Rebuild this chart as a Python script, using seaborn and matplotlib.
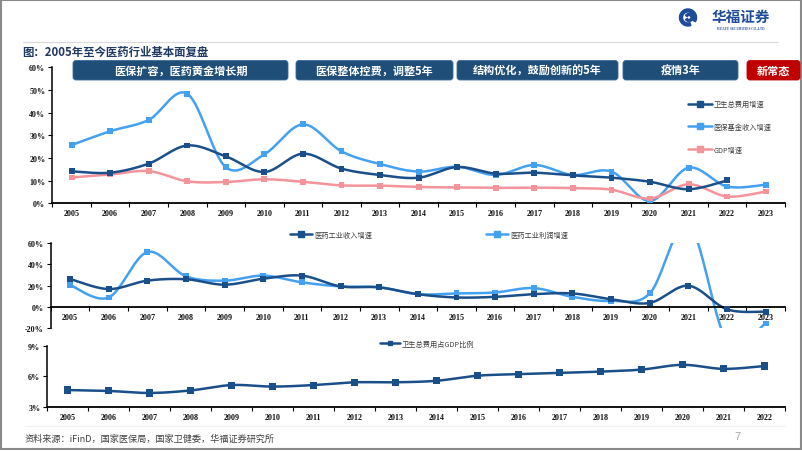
import numpy as np
import pandas as pd
import matplotlib
matplotlib.use('Agg')
import matplotlib.pyplot as plt
import seaborn as sns
from matplotlib.patches import FancyBboxPatch, Rectangle, Wedge, Circle
from matplotlib.lines import Line2D

# ---------------- data ----------------
years_top = [str(y) for y in range(2005, 2024)]
health_exp_growth = [14.1, 13.5, 17.5, 25.5, 20.7, 13.8, 21.9, 15.3, 12.5, 11.3,
                     16.0, 13.1, 13.5, 12.3, 11.3, 9.5, 6.2, 10.1]
insurance_income_growth = [25.7, 31.8, 36.8, 48.3, 15.9, 21.6, 34.8, 22.9, 17.3, 14.0,
                           16.1, 12.5, 16.9, 12.5, 14.0, 1.0, 15.7, 7.4, 8.2]
gdp_growth = [11.4, 12.7, 14.2, 9.7, 9.4, 10.6, 9.5, 7.9, 7.8, 7.2,
              7.0, 6.8, 6.9, 6.7, 6.0, 2.1, 8.4, 3.0, 5.2]

years_mid = [str(y) for y in range(2005, 2024)]
pharma_revenue_growth = [26.2, 16.8, 24.7, 26.0, 20.9, 26.5, 29.4, 19.3, 18.4, 12.0,
                         8.9, 9.5, 12.0, 12.7, 7.3, 3.8, 19.9, -2.2, -4.4]
pharma_profit_growth = [20.6, 8.9, 51.5, 28.8, 24.7, 29.4, 23.1, 19.3, 18.4, 12.0,
                        12.7, 13.6, 17.7, 9.5, 5.7, 12.7, 77.9, -31.8, -15.5]

years_bot = [str(y) for y in range(2005, 2023)]
health_exp_gdp_ratio = [4.64, 4.55, 4.35, 4.60, 5.13, 4.98, 5.13, 5.40, 5.40, 5.55,
                        6.05, 6.20, 6.33, 6.45, 6.65, 7.12, 6.72, 7.00]

names_top = ['卫生总费用增速', '医保基金收入增速', 'GDP增速']
names_mid = ['医药工业收入增速', '医药工业利润增速']
name_bot = '卫生总费用占GDP比例'

stage_labels = ['医保扩容，医药黄金增长期', '医保整体控费，调整5年', '结构优化，鼓励创新的5年', '疫情3年', '新常态']

title_text = '图：2005年至今医药行业基本面复盘'
source_text = '资料来源：iFinD，国家医保局，国家卫健委，华福证券研究所'

# ---------------- style ----------------
NAVY = '#1B4F8A'
LIGHT = '#44A0F0'
PINK = '#F4949A'
BANNER = '#1F4E79'
RED = '#C00000'

sns.set_style('white')
plt.rcParams['font.family'] = ['Noto Sans CJK SC', 'DejaVu Sans']

W, H = 802, 452
fig = plt.figure(figsize=(W / 100, H / 100), dpi=100)

bg = fig.add_axes([0, 0, 1, 1])
bg.set_xlim(0, W)
bg.set_ylim(H, 0)
bg.axis('off')


def px_axes(l, t, r, b):
    return fig.add_axes([l / W, 1 - b / H, (r - l) / W, (b - t) / H])


def smooth(vals, n=24):
    y = np.asarray(vals, float)
    x = np.arange(len(y), dtype=float)
    xs, ys = [], []
    m = len(y)
    for i in range(m - 1):
        p0 = i - 1 if i > 0 else i
        p3 = i + 2 if i + 2 < m else i + 1
        c1x = x[i] + (x[i + 1] - x[p0]) / 6
        c1y = y[i] + (y[i + 1] - y[p0]) / 6
        c2x = x[i + 1] - (x[p3] - x[i]) / 6
        c2y = y[i + 1] - (y[p3] - y[i]) / 6
        t = np.linspace(0, 1, n, endpoint=(i == m - 2))
        a, b_, c, d = (1 - t) ** 3, 3 * (1 - t) ** 2 * t, 3 * (1 - t) * t ** 2, t ** 3
        xs.append(a * x[i] + b_ * c1x + c * c2x + d * x[i + 1])
        ys.append(a * y[i] + b_ * c1y + c * c2y + d * y[i + 1])
    return np.concatenate(xs), np.concatenate(ys)


def draw_series(ax, series, lw=1.8, ms=18):
    lines, pts, pal = [], [], {}
    for name, vals, color in series:
        xs, ys = smooth(vals)
        lines.append(pd.DataFrame({'x': xs, 'y': ys, 's': name}))
        pts.append(pd.DataFrame({'x': np.arange(len(vals)), 'y': vals, 's': name}))
        pal[name] = color
    order = [s[0] for s in series]
    sns.lineplot(data=pd.concat(lines, ignore_index=True), x='x', y='y', hue='s',
                 hue_order=order, palette=pal, sort=False, estimator=None,
                 legend=False, ax=ax, linewidth=lw)
    sns.scatterplot(data=pd.concat(pts, ignore_index=True), x='x', y='y', hue='s',
                    hue_order=order, palette=pal, marker='s', s=ms, linewidth=0,
                    legend=False, ax=ax, zorder=4)


def style_axes(ax, labels, ylim, yticks, xpad=3, xaxis_at=None):
    n = len(labels)
    ax.set_facecolor('none')
    for s in ['top', 'right']:
        ax.spines[s].set_visible(False)
    if xaxis_at is not None:
        ax.spines['bottom'].set_position(('data', xaxis_at))
    ax.set_xlim(-0.5, n - 0.5)
    ax.set_ylim(*ylim)
    ax.set_yticks(yticks)
    ax.set_yticklabels([f'{v}%' for v in yticks])
    ax.set_xticks(range(n))
    ax.set_xticklabels(labels)
    ax.set_xticks(np.arange(-0.5, n, 1.0), minor=True)
    ax.tick_params(axis='x', which='major', bottom=True, length=0, pad=xpad)
    ax.tick_params(axis='x', which='minor', bottom=True, length=3, width=0.8,
                   direction='out', color='black')
    ax.tick_params(axis='y', left=True, length=3, width=0.8, direction='out',
                   pad=2, color='black')
    ax.spines['left'].set_color('black')
    ax.spines['left'].set_linewidth(1.1)
    ax.spines['bottom'].set_color('black')
    ax.spines['bottom'].set_linewidth(1.3)
    for lab in ax.get_xticklabels() + ax.get_yticklabels():
        lab.set_fontfamily('Liberation Serif')
        lab.set_fontweight('bold')
        lab.set_fontsize(5.8)
        lab.set_color('#111111')
    ax.set_xlabel('')
    ax.set_ylabel('')


def add_legend(handles, labels, x, y, spacing=0.5, hl=3.2):
    leg = fig.legend(handles, labels, loc='center left',
                     bbox_to_anchor=(x / W, 1 - y / H), bbox_transform=fig.transFigure,
                     frameon=False, prop={'family': ['Noto Sans CJK SC', 'DejaVu Sans'], 'size': 5.2},
                     handlelength=hl, handletextpad=0.2, labelspacing=spacing,
                     borderpad=0, borderaxespad=0)
    for t in leg.get_texts():
        t.set_color('#404040')
    return leg


# ---------------- slide decoration ----------------
bg.add_patch(Rectangle((1, 1), W - 2, H - 3, fill=False, edgecolor='#8A8A8A', linewidth=1.5))
bg.plot([23, 778], [43, 43], color='#D9D9D9', linewidth=0.8)
bg.plot([25, 785], [427, 427], color='#F0F0F0', linewidth=0.8)

# logo
bg.add_patch(Wedge((688, 18.5), 8.5, 70, 390, width=3.0, color='#1E4C9A'))
bg.add_patch(Wedge((689, 18.5), 4.0, 210, 510, width=2.0, color='#1E4C9A'))
bg.text(741, 16.5, '华福证券', fontsize=10.5, fontweight='bold', color='#1E4C9A',
        ha='center', va='center', family=['Noto Sans CJK SC', 'DejaVu Sans'])
bg.text(741, 28.5, 'HUAFU SECURITIES CO.,LTD', fontsize=2.4, color='#1E4C9A',
        ha='center', va='center', family='Liberation Serif', fontweight='bold')

bg.text(22, 52, title_text, fontsize=8.2, fontweight='bold', color='#1F3864',
        ha='left', va='center')

boxes = [(73, 288), (296, 453), (457, 618), (623, 738), (747, 800)]
for (x0, x1), lab, col in zip(boxes, stage_labels, [BANNER] * 4 + [RED]):
    bg.add_patch(FancyBboxPatch((x0, 61.5), x1 - x0, 19.5,
                                boxstyle='round,pad=0,rounding_size=3',
                                facecolor=col, edgecolor='#3A6A96' if col == BANNER else col,
                                linewidth=0.6))
    bg.text((x0 + x1) / 2, 71.3, lab, fontsize=8, fontweight='bold', color='white',
            ha='center', va='center')

bg.text(25, 439, source_text, fontsize=6.6, color='#404040', ha='left', va='center')
bg.text(737, 437, '7', fontsize=8, color='#A6A6A6', ha='center', va='center',
        family='Liberation Sans')

# ---------------- top chart ----------------
ax1 = px_axes(52.3, 68.3, 785, 204.3)
draw_series(ax1, [(names_top[1], insurance_income_growth, LIGHT),
                  (names_top[2], gdp_growth, PINK),
                  (names_top[0], health_exp_growth, NAVY)])
style_axes(ax1, years_top, (0, 60), list(range(0, 61, 10)), xpad=4)

h_top = [Line2D([], [], color=c, lw=1.8, marker='s', ms=4.2) for c in (NAVY, LIGHT, PINK)]
add_legend(h_top, names_top, 688, 128, spacing=2.05, hl=3.3)

# ---------------- middle chart ----------------
ax2 = px_axes(50.7, 244, 785, 329.3)
draw_series(ax2, [(names_mid[1], pharma_profit_growth, LIGHT),
                  (names_mid[0], pharma_revenue_growth, NAVY)])
style_axes(ax2, years_mid, (-20, 60), [-20, 0, 20, 40, 60], xpad=4, xaxis_at=0)

add_legend([Line2D([], [], color=NAVY, lw=1.8, marker='s', ms=4.2)], [names_mid[0]], 290, 236, hl=3.1)
add_legend([Line2D([], [], color=LIGHT, lw=1.8, marker='s', ms=4.2)], [names_mid[1]], 486, 236, hl=3.1)

# ---------------- bottom chart ----------------
ax3 = px_axes(47.3, 346.7, 785, 407.7)
draw_series(ax3, [(name_bot, health_exp_gdp_ratio, NAVY)], lw=1.8, ms=26)
style_axes(ax3, years_bot, (3, 9), [3, 6, 9], xpad=4.5)

add_legend([Line2D([], [], color=NAVY, lw=1.8, marker='s', ms=3.5)], [name_bot], 380, 345, hl=2.8)

fig.savefig('out.png', dpi=100)
